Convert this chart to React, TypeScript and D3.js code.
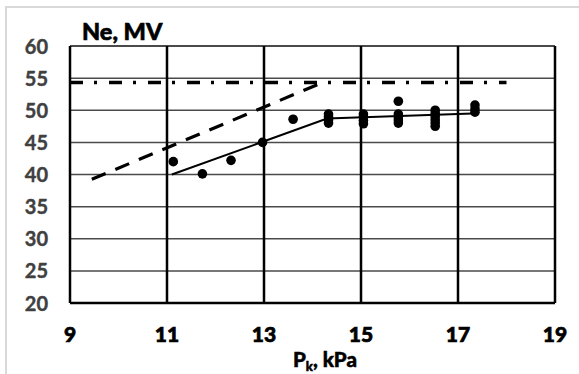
import React from "react";
import * as d3 from "d3";

const xTicks = [9, 11, 13, 15, 17, 19];
const yTicks = [20, 25, 30, 35, 40, 45, 50, 55, 60];

const dashedX = [9.45, 14.2];
const dashedY = [39.25, 54.3];

const dashDotX = [9, 18];
const dashDotY = [54.3, 54.3];

const solidX = [11.1, 14.3, 17.3];
const solidY = [40, 48.7, 49.5];

const pointsX = [
  11.13, 11.73, 12.32, 12.97, 13.6,
  14.33, 14.33, 14.33, 14.33,
  15.05, 15.05, 15.05, 15.05,
  15.77, 15.77, 15.77, 15.77, 15.77,
  16.53, 16.53, 16.53, 16.53, 16.53, 16.53,
  17.35, 17.35, 17.35,
];
const pointsY = [
  42.0, 40.1, 42.2, 45.0, 48.6,
  48.0, 48.5, 49.0, 49.4,
  47.9, 48.4, 49.0, 49.4,
  48.0, 48.5, 49.0, 49.4, 51.4,
  47.5, 48.0, 48.5, 49.0, 49.5, 50.0,
  49.7, 50.2, 50.8,
];

const W = 579;
const H = 374;

export default function App() {
  const x = d3.scaleLinear().domain([9, 19]).range([70, 555]);
  const y = d3.scaleLinear().domain([20, 60]).range([303, 46]);
  const line = d3
    .line<[number, number]>()
    .x((d) => x(d[0]))
    .y((d) => y(d[1]));
  const zip = (a: number[], b: number[]) =>
    a.map((v, i) => [v, b[i]] as [number, number]);

  const font = "Lato, 'Open Sans', sans-serif";

  return (
    <svg
      width={W}
      height={H}
      style={{ position: "absolute", left: 0, top: 0, background: "#fff" }}
    >
      <rect x={6} y={7} width={W + 10} height={H + 10} fill="#fff" stroke="#d9d9d9" strokeWidth={2} />
      {/* horizontal grid */}
      {yTicks.map((t) => (
        <line
          key={"h" + t}
          x1={x(9)}
          x2={x(19)}
          y1={y(t)}
          y2={y(t)}
          stroke={t === 20 ? "#000" : "#4a4a4a"}
          strokeWidth={t === 20 ? 2.5 : t === 60 ? 1.8 : 1.5}
        />
      ))}
      {/* vertical grid */}
      {xTicks.map((t) => (
        <line
          key={"v" + t}
          x1={x(t)}
          x2={x(t)}
          y1={y(60)}
          y2={y(20)}
          stroke="#000"
          strokeWidth={2.5}
        />
      ))}
      {/* y tick labels */}
      {yTicks.map((t) => (
        <text
          key={"yl" + t}
          x={48}
          y={y(t) + 7.5}
          textAnchor="end"
          fontFamily={font}
          fontWeight={700}
          fontSize={20}
          fill="#404040"
          stroke="#404040"
          strokeWidth={0.4}
        >
          {t}
        </text>
      ))}
      {/* x tick labels */}
      {xTicks.map((t) => (
        <text
          key={"xl" + t}
          x={x(t)}
          y={342}
          textAnchor="middle"
          fontFamily={font}
          fontWeight={900}
          fontSize={21}
          fill="#000"
          stroke="#000"
          strokeWidth={0.7}
        >
          {t}
        </text>
      ))}
      {/* title */}
      <text x={82} y={40} fontFamily={font} fontWeight={900} fontSize={23.5} fill="#000" stroke="#000" strokeWidth={0.6}>
        Ne, MV
      </text>
      {/* x axis label */}
      <text x={293} y={367} fontFamily={font} fontWeight={900} fontSize={20.5} fill="#000" stroke="#000" strokeWidth={0.5}>
        P
        <tspan fontSize={13} dy={4}>k</tspan>
        <tspan dy={-4}>, kPa</tspan>
      </text>
      {/* lines */}
      <path
        d={line(zip(dashDotX, dashDotY)) || ""}
        fill="none"
        stroke="#000"
        strokeWidth={3.5}
        strokeDasharray="13 11 3 12"
      />
      <path
        d={line(zip(dashedX, dashedY)) || ""}
        fill="none"
        stroke="#000"
        strokeWidth={3.2}
        strokeDasharray="15 10.5"
      />
      <path
        d={line(zip(solidX, solidY)) || ""}
        fill="none"
        stroke="#000"
        strokeWidth={2}
      />
      {zip(pointsX, pointsY).map((p, i) => (
        <circle key={"p" + i} cx={x(p[0])} cy={y(p[1])} r={4.8} fill="#000" />
      ))}
    </svg>
  );
}
